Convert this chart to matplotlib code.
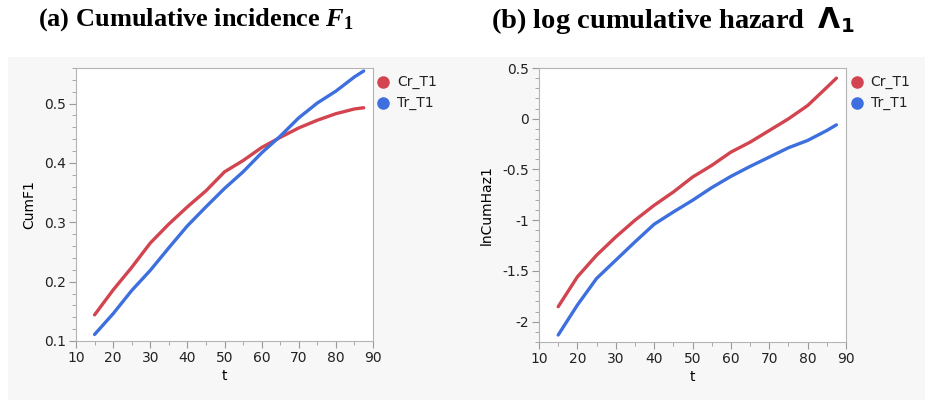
import numpy as np
import matplotlib
matplotlib.use('Agg')
import matplotlib.pyplot as plt
from matplotlib.ticker import MultipleLocator

plt.rcParams['mathtext.fontset'] = 'custom'
plt.rcParams['mathtext.rm'] = 'Liberation Serif:bold'
plt.rcParams['mathtext.it'] = 'Liberation Serif:italic:bold'
plt.rcParams['mathtext.bf'] = 'DejaVu Sans:bold'
plt.rcParams['axes.unicode_minus'] = False

# data
t = [15, 20, 25, 30, 35, 40, 45, 50, 55, 60, 65, 70, 75, 80, 85, 87.5]
cumf_cr = [0.144, 0.186, 0.224, 0.265, 0.297, 0.326, 0.353, 0.385, 0.404, 0.426, 0.443, 0.459, 0.472, 0.483, 0.491, 0.493]
cumf_tr = [0.111, 0.146, 0.185, 0.219, 0.257, 0.294, 0.326, 0.357, 0.385, 0.417, 0.445, 0.476, 0.501, 0.521, 0.545, 0.555]
lnhaz_cr = [-1.852, -1.558, -1.345, -1.165, -1.0, -0.853, -0.722, -0.575, -0.46, -0.329, -0.231, -0.116, -0.001, 0.130, 0.309, 0.40]
lnhaz_tr = [-2.131, -1.836, -1.574, -1.394, -1.214, -1.040, -0.919, -0.804, -0.679, -0.568, -0.470, -0.378, -0.286, -0.214, -0.116, -0.060]
labels = ['Cr_T1', 'Tr_T1']
red = '#d2444f'
blue = '#3e6fde'

W, H = 925, 403
fig = plt.figure(figsize=(9.25, 4.03), dpi=100)

def make_ax(x0, x1, y0, y1):
    return fig.add_axes([x0/W, 1 - y1/H, (x1-x0)/W, (y1-y0)/H])

bg = make_ax(8, 925, 57, 400)
bg.set_axis_off()
bg.set_zorder(-10)
bg.add_patch(plt.Rectangle((0, 0), 1, 1, transform=bg.transAxes, color='#f7f7f7'))

ax1 = make_ax(76, 373, 68, 341)
ax2 = make_ax(539, 846, 68, 342)

for ax, ycr, ytr in [(ax1, cumf_cr, cumf_tr), (ax2, lnhaz_cr, lnhaz_tr)]:
    ax.plot(t, ycr, color=red, lw=2.4, solid_capstyle='round')
    ax.plot(t, ytr, color=blue, lw=2.4, solid_capstyle='round')
    ax.set_xlim(10, 90)
    ax.xaxis.set_major_locator(MultipleLocator(10))
    ax.xaxis.set_minor_locator(MultipleLocator(5))
    for s in ax.spines.values():
        s.set_color('#b4b4b4')
    ax.tick_params(which='major', length=5, color='#9a9a9a', labelsize=10, labelcolor='#222222', pad=2)
    ax.tick_params(which='minor', length=3, color='#9a9a9a')
    ax.set_xlabel('t', fontsize=10, labelpad=3)
    ax.set_facecolor('white')
    # legend
    for i, (lab, c) in enumerate(zip(labels, [red, blue])):
        ax.plot([1.035], [0.95 - i*0.077], 'o', color=c, ms=8, transform=ax.transAxes, clip_on=False)
        ax.text(1.08, 0.95 - i*0.077, lab, transform=ax.transAxes, fontsize=10, va='center', color='#222222')

ax1.set_ylim(0.1, 0.56)
ax1.set_yticks([0.1, 0.2, 0.3, 0.4, 0.5])
ax1.set_yticklabels(['0.1', '0.2', '0.3', '0.4', '0.5'])
ax1.yaxis.set_minor_locator(MultipleLocator(0.02))
ax1.set_ylabel('CumF1', fontsize=10, labelpad=6)

ax2.set_ylim(-2.2, 0.5)
ax2.set_yticks([-2, -1.5, -1, -0.5, 0, 0.5])
ax2.set_yticklabels(['-2', '-1.5', '-1', '-0.5', '0', '0.5'])
ax2.yaxis.set_minor_locator(MultipleLocator(0.1))
ax2.set_ylabel('lnCumHaz1', fontsize=10, labelpad=6)

fig.text(196/W, 1 - 20/H, r'(a) Cumulative incidence $F_1$', fontsize=19, ha='center', va='center',
         family='Liberation Serif', weight='bold')
fig.text(673/W, 1 - 20/H, r'(b) log cumulative hazard  $\mathbf{\Lambda_1}$', fontsize=20.5, ha='center', va='center',
         family='Liberation Serif', weight='bold')

fig.savefig('out.png', dpi=100)
